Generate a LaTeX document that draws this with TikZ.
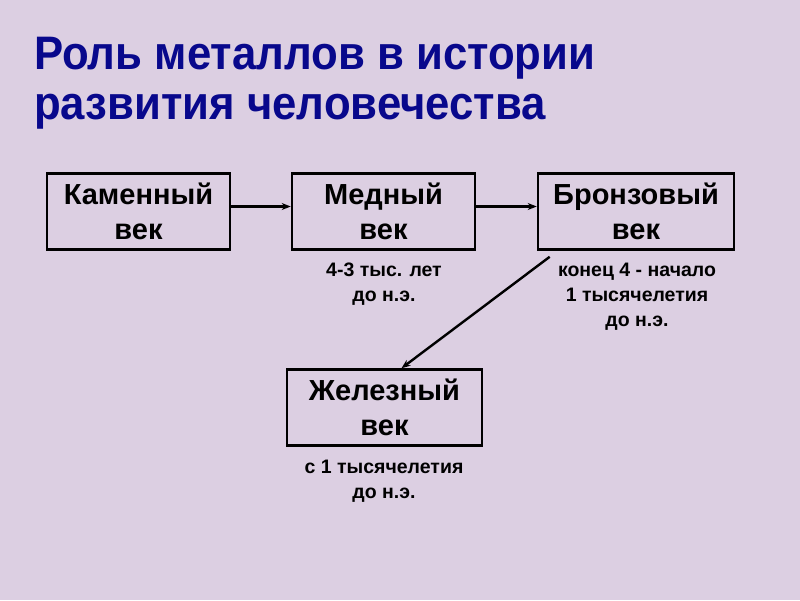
\documentclass[tikz,border=0pt]{standalone}
\usepackage{fontspec}
\setmainfont{Liberation Sans}
\newfontfamily\titlefont[FakeStretch=0.93]{Liberation Sans}
\usetikzlibrary{arrows.meta,calc}
\definecolor{paper}{RGB}{220,207,226}
\definecolor{titleblue}{RGB}{8,8,140}
\tikzset{
  agebox/.style={draw,line width=2.6pt,minimum width=#1,minimum height=76pt,
    align=center,font=\bfseries\fontsize{29}{35}\selectfont,inner sep=0pt},
  agebox/.default=183pt,
  datenote/.style={align=center,font=\bfseries\fontsize{19.5}{25}\selectfont,inner sep=0pt},
  ageline/.style={line width=2.4pt,-{Stealth[length=9pt,width=7pt]}}
}
\begin{document}
\begin{tikzpicture}[x=1pt,y=-1pt]
      \fill[paper] (0,0) rectangle (800,600);
      \useasboundingbox (0,0) rectangle (800,600);
      % title
      \node[anchor=west,text=titleblue,align=left,inner sep=0pt,
        font=\titlefont\bfseries\fontsize{47}{50}\selectfont] (title) at (34,83)
        {Роль металлов в истории\\развития человечества};
      % boxes
      \node[agebox] (stone) at (138.5,211.5) {Каменный\\век};
      \node[agebox] (copper) at (383.5,211.5) {Медный\\век};
      \node[agebox=196pt] (bronze) at (636,211.5) {Бронзовый\\век};
      \node[agebox=195pt] (iron) at (384.5,407.5) {Железный\\век};
      % dates
      \node[datenote] (copperdate) at (384,284) {4-3 тыс. лет\\до н.э.};
      \node[datenote] (bronzedate) at (637,297) {конец 4 - начало\\1 тысячелетия\\до н.э.};
      \node[datenote] (irondate) at (384,481) {с 1 тысячелетия\\до н.э.};
      % arrows
      \draw[ageline] ([yshift=5pt]stone.east) -- ([yshift=5pt]copper.west);
      \draw[ageline] ([yshift=5pt]copper.east) -- ([yshift=5pt]bronze.west);
      \coordinate (bend) at ($(bronze.south west)+(13,6)$);
      \draw[ageline] (bend) -- ([xshift=17pt]iron.north);
\end{tikzpicture}
\end{document}
